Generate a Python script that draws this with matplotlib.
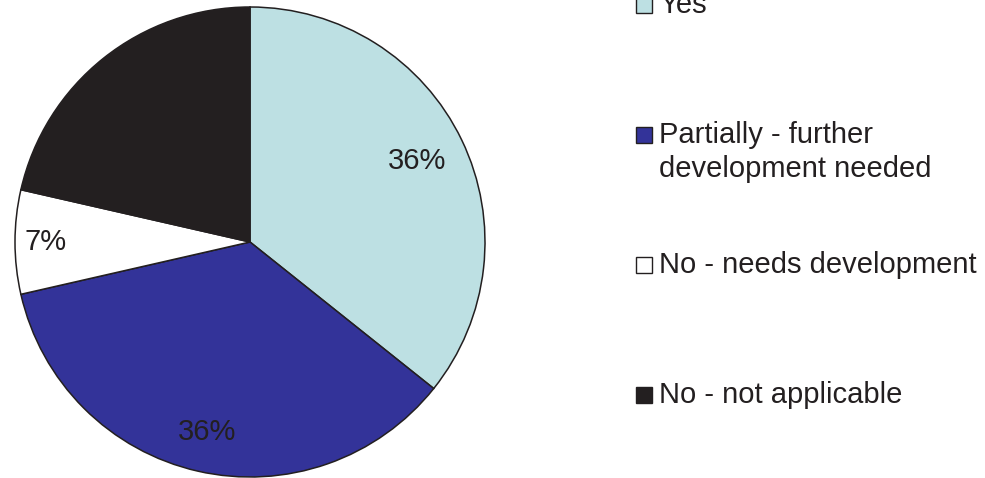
import numpy as np
import matplotlib.pyplot as plt
from matplotlib.patches import Rectangle

labels = ['Yes', 'Partially - further\ndevelopment needed',
          'No - needs development', 'No - not applicable']
counts = [5, 5, 1, 3]
colors = ['#bde0e3', '#333399', '#ffffff', '#231f20']
ink = '#231f20'

plt.rcParams['font.family'] = ['Liberation Sans', 'DejaVu Sans']

fig = plt.figure(figsize=(9.85, 4.78), dpi=100)
ax = fig.add_axes([15 / 985, 1 / 478, 470 / 985, 470 / 478])
wedges, texts, autotexts = ax.pie(
    counts, colors=colors, startangle=90, counterclock=False, radius=1,
    autopct=lambda p: f'{p:.0f}%', pctdistance=0.8,
    wedgeprops=dict(edgecolor=ink, linewidth=1.1, clip_on=False),
    textprops=dict(color=ink, fontsize=21))
ax.set_xlim(-1, 1)
ax.set_ylim(-1, 1)
ax.set_aspect('equal')
ax.axis('off')

# label distance per slice, roughly like the original
dists = [0.79, 0.83, 0.87, 0.8]
for w, t, d in zip(wedges, autotexts, dists):
    mid = np.deg2rad((w.theta1 + w.theta2) / 2)
    t.set_position((d * np.cos(mid), d * np.sin(mid)))

# legend drawn by hand so the marker sits on the first line
for i, (lab, col) in enumerate(zip(labels, colors)):
    base = 13 + 130 * i
    fig.patches.append(Rectangle((636 / 985, 1 - base / 478), 16 / 985, 16 / 478,
                                 transform=fig.transFigure, facecolor=col,
                                 edgecolor=ink, linewidth=1.0))
    for k, line in enumerate(lab.split('\n')):
        fig.text(659 / 985, 1 - (base + 34 * k) / 478, line, fontsize=21,
                 color=ink, va='baseline', ha='left')

fig.savefig('out.png', dpi=100)
